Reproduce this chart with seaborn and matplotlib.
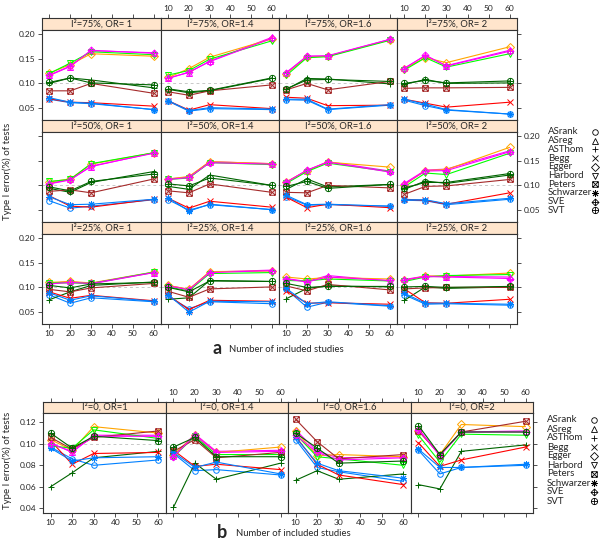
import matplotlib
matplotlib.use("Agg")
import matplotlib.pyplot as plt
import pandas as pd
import seaborn as sns
from matplotlib.path import Path
from matplotlib.ticker import FormatStrFormatter

sns.set_style("white")
plt.rcParams["font.family"] = ["Lato", "DejaVu Sans"]

W, H = 600, 540

methods = ["ASrank", "ASreg", "ASThom", "Begg", "Egger", "Harbord",
           "Peters", "Schwarzer", "SVE", "SVT"]
n_studies = [10, 20, 30, 60]
x_ticks = [10, 20, 30, 40, 50, 60]
i2_a = ["75%", "50%", "25%"]
or_a = [" 1", "1.4", "1.6", " 2"]
or_b = ["1", "1.4", "1.6", "2"]

# each panel: one row per method (same order as `methods`), values at n = 10, 20, 30, 60
a75_or1 = [[0.068, 0.061, 0.059, 0.047], [0.116, 0.134, 0.166, 0.162], [0.100, 0.111, 0.107, 0.091],
           [0.069, 0.062, 0.061, 0.054], [0.121, 0.138, 0.160, 0.155], [0.120, 0.141, 0.164, 0.158],
           [0.085, 0.085, 0.100, 0.080], [0.071, 0.062, 0.060, 0.047], [0.117, 0.135, 0.167, 0.161],
           [0.102, 0.111, 0.101, 0.097]]
a75_or14 = [[0.064, 0.044, 0.049, 0.047], [0.111, 0.122, 0.145, 0.193], [0.088, 0.081, 0.085, 0.110],
            [0.065, 0.046, 0.057, 0.049], [0.112, 0.130, 0.153, 0.190], [0.117, 0.126, 0.149, 0.186],
            [0.083, 0.076, 0.085, 0.097], [0.065, 0.045, 0.051, 0.048], [0.110, 0.123, 0.144, 0.191],
            [0.089, 0.083, 0.086, 0.111]]
a75_or16 = [[0.067, 0.066, 0.047, 0.056], [0.122, 0.155, 0.155, 0.189], [0.088, 0.110, 0.109, 0.099],
            [0.072, 0.070, 0.055, 0.056], [0.120, 0.153, 0.155, 0.188], [0.116, 0.152, 0.154, 0.187],
            [0.087, 0.100, 0.087, 0.104], [0.068, 0.068, 0.048, 0.057], [0.121, 0.155, 0.156, 0.189],
            [0.089, 0.107, 0.108, 0.104]]
a75_or2 = [[0.066, 0.055, 0.046, 0.038], [0.131, 0.156, 0.136, 0.167], [0.098, 0.108, 0.100, 0.101],
           [0.068, 0.060, 0.052, 0.062], [0.130, 0.152, 0.142, 0.174], [0.127, 0.152, 0.133, 0.160],
           [0.090, 0.091, 0.091, 0.092], [0.068, 0.058, 0.047, 0.038], [0.130, 0.157, 0.135, 0.165],
           [0.100, 0.106, 0.101, 0.105]]
a50_or1 = [[0.069, 0.054, 0.058, 0.071], [0.104, 0.112, 0.138, 0.166], [0.094, 0.086, 0.106, 0.128],
           [0.079, 0.058, 0.056, 0.072], [0.107, 0.113, 0.143, 0.166], [0.108, 0.112, 0.144, 0.166],
           [0.088, 0.091, 0.085, 0.113], [0.077, 0.061, 0.062, 0.072], [0.103, 0.111, 0.139, 0.165],
           [0.097, 0.089, 0.108, 0.123]]
a50_or14 = [[0.071, 0.050, 0.061, 0.051], [0.113, 0.117, 0.148, 0.144], [0.098, 0.092, 0.121, 0.100],
            [0.074, 0.054, 0.068, 0.056], [0.113, 0.118, 0.148, 0.144], [0.112, 0.115, 0.146, 0.142],
            [0.089, 0.085, 0.103, 0.086], [0.075, 0.048, 0.062, 0.051], [0.112, 0.116, 0.146, 0.143],
            [0.103, 0.099, 0.115, 0.100]]
a50_or16 = [[0.077, 0.060, 0.061, 0.058], [0.107, 0.130, 0.148, 0.129], [0.092, 0.113, 0.097, 0.102],
            [0.076, 0.055, 0.062, 0.055], [0.107, 0.130, 0.147, 0.137], [0.104, 0.128, 0.145, 0.128],
            [0.086, 0.085, 0.100, 0.095], [0.080, 0.061, 0.062, 0.058], [0.106, 0.131, 0.147, 0.127],
            [0.098, 0.108, 0.094, 0.102]]
a50_or2 = [[0.070, 0.069, 0.061, 0.072], [0.104, 0.131, 0.133, 0.170], [0.092, 0.109, 0.104, 0.121],
           [0.072, 0.070, 0.062, 0.085], [0.101, 0.130, 0.132, 0.177], [0.097, 0.125, 0.122, 0.165],
           [0.082, 0.098, 0.099, 0.112], [0.071, 0.071, 0.063, 0.074], [0.103, 0.129, 0.130, 0.168],
           [0.095, 0.106, 0.106, 0.124]]
a25_or1 = [[0.085, 0.068, 0.079, 0.071], [0.108, 0.112, 0.107, 0.130], [0.075, 0.091, 0.104, 0.111],
           [0.091, 0.078, 0.084, 0.073], [0.110, 0.112, 0.109, 0.131], [0.109, 0.109, 0.108, 0.131],
           [0.096, 0.091, 0.099, 0.108], [0.089, 0.074, 0.083, 0.072], [0.107, 0.110, 0.108, 0.130],
           [0.104, 0.099, 0.107, 0.110]]
a25_or14 = [[0.082, 0.057, 0.071, 0.067], [0.104, 0.096, 0.131, 0.135], [0.076, 0.079, 0.114, 0.112],
            [0.084, 0.055, 0.074, 0.072], [0.104, 0.096, 0.132, 0.133], [0.101, 0.093, 0.128, 0.130],
            [0.092, 0.080, 0.097, 0.101], [0.085, 0.050, 0.072, 0.071], [0.103, 0.095, 0.130, 0.134],
            [0.100, 0.091, 0.113, 0.112]]
a25_or16 = [[0.096, 0.060, 0.070, 0.062], [0.118, 0.112, 0.124, 0.113], [0.077, 0.098, 0.103, 0.101],
            [0.093, 0.068, 0.069, 0.066], [0.121, 0.117, 0.120, 0.117], [0.114, 0.113, 0.117, 0.113],
            [0.103, 0.093, 0.106, 0.095], [0.098, 0.067, 0.071, 0.063], [0.117, 0.111, 0.121, 0.114],
            [0.108, 0.100, 0.102, 0.102]]
a25_or2 = [[0.085, 0.066, 0.067, 0.064], [0.116, 0.123, 0.122, 0.121], [0.074, 0.101, 0.098, 0.101],
           [0.097, 0.069, 0.068, 0.076], [0.114, 0.123, 0.123, 0.129], [0.112, 0.121, 0.124, 0.126],
           [0.097, 0.099, 0.100, 0.100], [0.088, 0.068, 0.068, 0.066], [0.115, 0.122, 0.121, 0.118],
           [0.101, 0.102, 0.100, 0.102]]

b0_or1 = [[0.097, 0.086, 0.080, 0.085], [0.101, 0.092, 0.108, 0.108], [0.060, 0.073, 0.087, 0.093],
          [0.103, 0.081, 0.091, 0.092], [0.104, 0.094, 0.116, 0.110], [0.098, 0.096, 0.113, 0.105],
          [0.106, 0.095, 0.106, 0.112], [0.096, 0.084, 0.087, 0.088], [0.100, 0.093, 0.107, 0.107],
          [0.110, 0.096, 0.107, 0.103]]
b0_or14 = [[0.091, 0.075, 0.076, 0.071], [0.089, 0.109, 0.093, 0.094], [0.041, 0.082, 0.067, 0.082],
           [0.094, 0.079, 0.081, 0.076], [0.090, 0.108, 0.092, 0.097], [0.088, 0.107, 0.090, 0.090],
           [0.093, 0.104, 0.087, 0.092], [0.092, 0.078, 0.083, 0.072], [0.088, 0.108, 0.092, 0.093],
           [0.097, 0.106, 0.088, 0.088]]
b0_or16 = [[0.104, 0.078, 0.074, 0.065], [0.113, 0.093, 0.087, 0.088], [0.066, 0.075, 0.067, 0.072],
           [0.107, 0.081, 0.071, 0.062], [0.112, 0.089, 0.090, 0.088], [0.109, 0.088, 0.086, 0.080],
           [0.123, 0.102, 0.086, 0.090], [0.106, 0.082, 0.075, 0.068], [0.108, 0.092, 0.085, 0.087],
           [0.110, 0.096, 0.082, 0.084]]
b0_or2 = [[0.094, 0.072, 0.078, 0.080], [0.114, 0.089, 0.111, 0.112], [0.062, 0.058, 0.093, 0.099],
          [0.101, 0.079, 0.085, 0.097], [0.112, 0.090, 0.118, 0.116], [0.108, 0.083, 0.109, 0.108],
          [0.112, 0.090, 0.111, 0.121], [0.095, 0.078, 0.078, 0.081], [0.113, 0.089, 0.111, 0.111],
          [0.117, 0.090, 0.111, 0.111]]

panels_a = [[a75_or1, a75_or14, a75_or16, a75_or2],
            [a50_or1, a50_or14, a50_or16, a50_or2],
            [a25_or1, a25_or14, a25_or16, a25_or2]]
panels_b = [b0_or1, b0_or14, b0_or16, b0_or2]

colors = {"ASrank": "#0080ff", "ASreg": "#ff00ff", "ASThom": "darkgreen", "Begg": "#ff0000",
          "Egger": "orange", "Harbord": "#00ff00", "Peters": "brown", "Schwarzer": "#0080ff",
          "SVE": "#ff00ff", "SVT": "darkgreen"}

M, L = Path.MOVETO, Path.LINETO
box_x = Path([(-1, -1), (1, -1), (1, 1), (-1, 1), (-1, -1), (-1, -1), (1, 1), (-1, 1), (1, -1)],
             [M, L, L, L, L, M, L, M, L])
cross = Path([(-1, 0), (1, 0), (0, -1), (0, 1)], [M, L, M, L])
diamond = Path([(0, -1), (1, 0), (0, 1), (-1, 0), (0, -1)], [M, L, L, L, L])
circ_plus = Path.make_compound_path(Path.unit_circle(), cross)
diam_plus = Path.make_compound_path(diamond, cross)

markers = {"ASrank": "o", "ASreg": "^", "ASThom": "+", "Begg": "x", "Egger": "D",
           "Harbord": "v", "Peters": box_x, "Schwarzer": (8, 2, 0), "SVE": diam_plus,
           "SVT": circ_plus}
msize = {"ASrank": 4, "ASreg": 4, "ASThom": 5, "Begg": 4, "Egger": 3.6, "Harbord": 4,
         "Peters": 4, "Schwarzer": 5, "SVE": 5, "SVT": 4.5}

EDGE = "#333333"


def px_axes(fig, x0, y0, x1, y1):
    return fig.add_axes([x0 / W, 1 - y1 / H, (x1 - x0) / W, (y1 - y0) / H])


def to_frame(values):
    rows = []
    for m, ys in zip(methods, values):
        for n, y in zip(n_studies, ys):
            rows.append({"method": m, "n": n, "err": y})
    return pd.DataFrame(rows)


def draw_panel(ax, values, ylim):
    df = to_frame(values)
    ax.axhline(0.1, color="#c8c8c8", ls=(0, (3, 3)), lw=0.7, zorder=0)
    for m in methods:
        sns.lineplot(data=df[df.method == m], x="n", y="err", ax=ax, color=colors[m],
                     marker=markers[m], markersize=msize[m], markerfacecolor="none",
                     markeredgecolor=colors[m], markeredgewidth=0.7, linewidth=0.8,
                     errorbar=None, legend=False)
    ax.set_xlim(6.5, 63.5)
    ax.set_ylim(*ylim)
    ax.set_xlabel("")
    ax.set_ylabel("")
    for s in ax.spines.values():
        s.set_color(EDGE)
        s.set_linewidth(0.8)


def strip(fig, box, text, top_labels=None):
    ax = px_axes(fig, *box)
    ax.set_facecolor("#ffe5cc")
    ax.set_xlim(6.5, 63.5)
    ax.set_yticks([])
    ax.text(0.5, 0.5, text, transform=ax.transAxes, ha="center", va="center", fontsize=6.8)
    for s in ax.spines.values():
        s.set_color(EDGE)
        s.set_linewidth(0.8)
    if top_labels is None:
        ax.set_xticks([])
    else:
        ax.set_xticks(x_ticks)
        ax.tick_params(axis="x", top=True, labeltop=top_labels, bottom=False, labelbottom=False,
                       length=3, width=0.6, pad=1.5, labelsize=6, color=EDGE, direction="out")
    return ax


def legend(fig, y_first, step, x_text, x_mark):
    ax = px_axes(fig, 535, y_first - 6, 600, y_first + 9 * step + 6)
    ax.set_xlim(535, 600)
    ax.set_ylim(y_first + 9 * step + 6, y_first - 6)
    ax.axis("off")
    for i, m in enumerate(methods):
        y = y_first + i * step
        ax.text(x_text, y, m, fontsize=7, va="center", ha="left")
        ax.plot([x_mark], [y], marker=markers[m], markersize=msize[m], color="black",
                markerfacecolor="none", markeredgewidth=0.6, clip_on=False)


fig = plt.figure(figsize=(6, 5.4), dpi=100)

# ---- panel a: 3 x 4 lattice
col_a = [42, 161, 279, 397, 517]
ylim_a = (0.026, 0.208)
for r in range(3):
    top = 18 + r * 102
    for c in range(4):
        strip(fig, (col_a[c], top, col_a[c + 1], top + 12), f"I\u00b2={i2_a[r]}, OR={or_a[c]}",
              top_labels=(c in (1, 3)) if r == 0 else None)
        ax = px_axes(fig, col_a[c], top + 12, col_a[c + 1], top + 102)
        draw_panel(ax, panels_a[r][c], ylim_a)
        ax.set_xticks(x_ticks)
        ax.set_yticks([0.05, 0.10, 0.15, 0.20])
        ax.yaxis.set_major_formatter(FormatStrFormatter("%.2f"))
        ax.tick_params(axis="x", bottom=(r == 2), labelbottom=(r == 2 and c in (0, 2)),
                       top=False, labeltop=False, length=3, width=0.6, pad=1.5,
                       labelsize=6, color=EDGE, direction="out")
        ax.tick_params(axis="y", left=(c == 0), labelleft=(c == 0 and r != 1),
                       right=(c == 3), labelright=(c == 3 and r == 1), length=3, width=0.6,
                       pad=1.5, labelsize=6, color=EDGE, direction="out")

legend(fig, 132, 8.7, 548, 595)
fig.text(7 / W, 1 - 171 / H, "Type I error(%) of tests", rotation=90, ha="center",
         va="center", fontsize=7)
fig.text(217 / W, 1 - 348 / H, "a", fontsize=13, fontweight="bold", ha="center", va="center")
fig.text(229 / W, 1 - 349 / H, "Number of included studies", fontsize=6.8, ha="left", va="center")

# ---- panel b: 1 x 4 lattice
col_b = [43, 166, 288, 411, 533]
ylim_b = (0.0356, 0.1287)
for c in range(4):
    strip(fig, (col_b[c], 402, col_b[c + 1], 413), f"I\u00b2=0, OR={or_b[c]}", top_labels=(c in (1, 3)))
    ax = px_axes(fig, col_b[c], 413, col_b[c + 1], 513)
    draw_panel(ax, panels_b[c], ylim_b)
    ax.set_xticks(x_ticks)
    ax.set_yticks([0.04, 0.06, 0.08, 0.10, 0.12])
    ax.yaxis.set_major_formatter(FormatStrFormatter("%.2f"))
    ax.tick_params(axis="x", bottom=True, labelbottom=(c in (0, 2)), top=False, labeltop=False,
                   length=3, width=0.6, pad=1.5, labelsize=6, color=EDGE, direction="out")
    ax.tick_params(axis="y", left=(c == 0), labelleft=(c == 0), right=(c == 3), labelright=False,
                   length=3, width=0.6, pad=1.5, labelsize=6, color=EDGE, direction="out")

legend(fig, 420, 9, 547, 594)
fig.text(7 / W, 1 - 460 / H, "Type I error(%) of tests", rotation=90, ha="center",
         va="center", fontsize=7)
fig.text(222 / W, 1 - 533 / H, "b", fontsize=13, fontweight="bold", ha="center", va="center")
fig.text(236 / W, 1 - 534 / H, "Number of included studies", fontsize=6.8, ha="left", va="center")

fig.savefig("out.png", dpi=100)
